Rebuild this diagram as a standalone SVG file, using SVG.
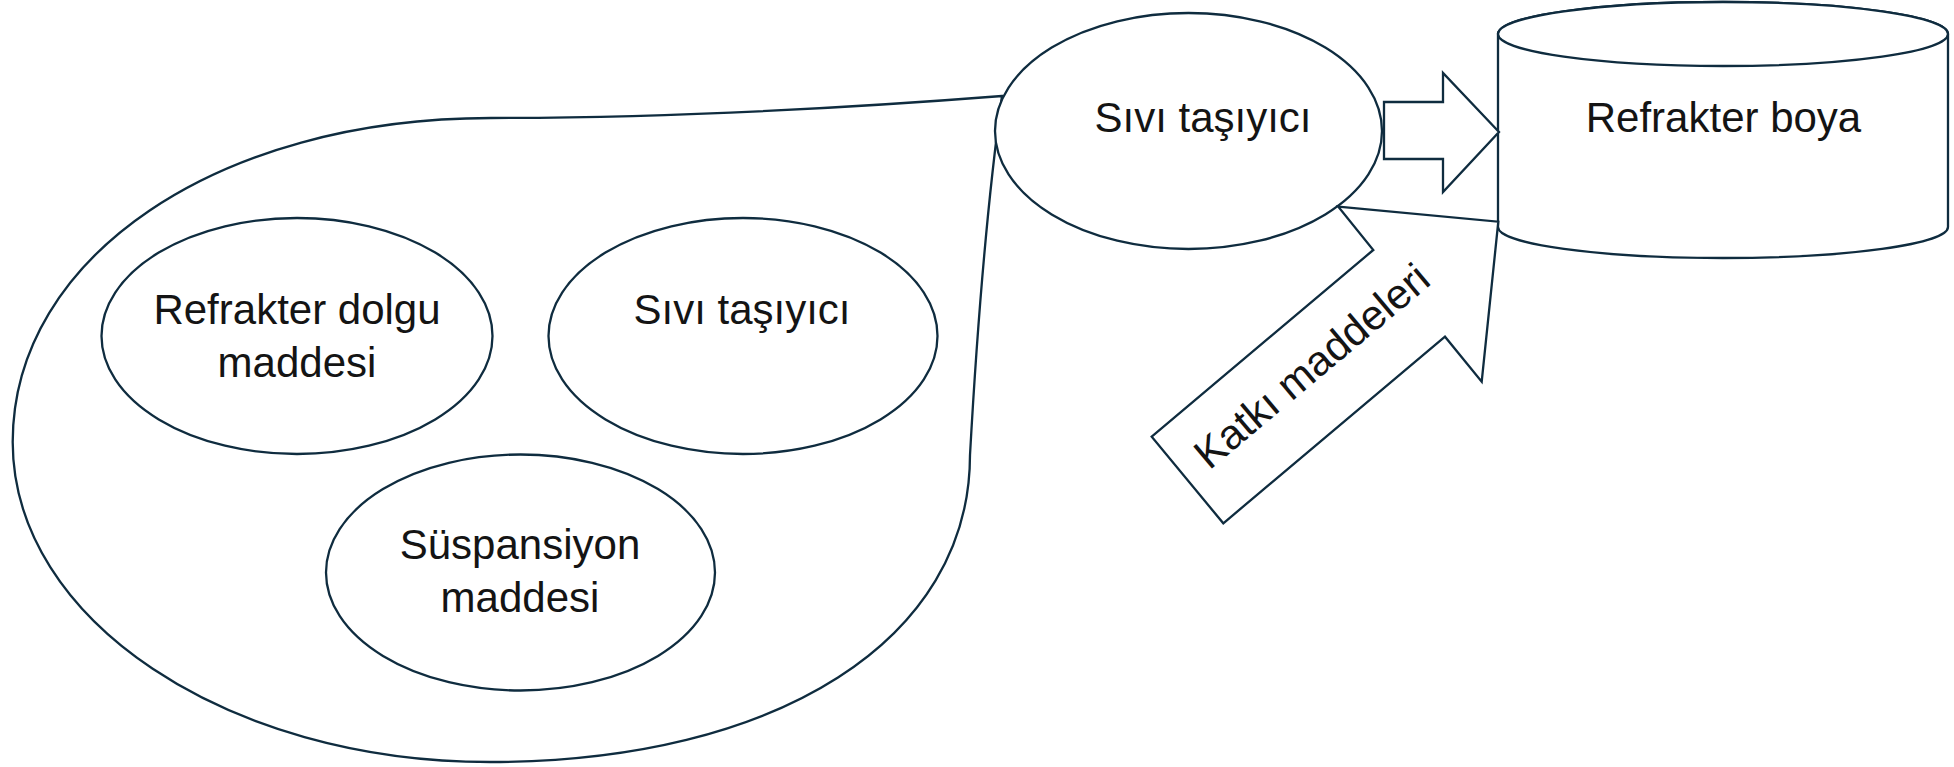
<svg xmlns="http://www.w3.org/2000/svg" width="1954" height="767" viewBox="0 0 1954 767">
<style>
.s{fill:#fff;stroke:#0f2c3f;stroke-width:2.3;stroke-linejoin:miter}
.t{font-family:"Liberation Sans",Arial,sans-serif;font-size:42px;fill:#141414;text-anchor:middle}
</style>
<rect width="1954" height="767" fill="#fff"/>
<g id="mixture">
<path class="s" d="M1002,96 Q720,118 491,118 C218.5,118 12.7,256.5 12.7,442 C12.7,620 227,762 490,762 C778,762 970,639 970,455 Q982,240 1002,96 Z"/>
</g>
<g id="refrakter-dolgu">
<ellipse class="s" cx="297" cy="336" rx="195.5" ry="118"/>
<text class="t" x="297" y="324">Refrakter dolgu</text>
<text class="t" x="297" y="376.5">maddesi</text>
</g>
<g id="sivi-tasiyici-inner">
<ellipse class="s" cx="743" cy="336" rx="194.5" ry="118"/>
<text class="t" x="742" y="323.5">Sıvı taşıyıcı</text>
</g>
<g id="suspansiyon">
<ellipse class="s" cx="520.5" cy="572.5" rx="194.5" ry="118"/>
<text class="t" x="520" y="559">Süspansiyon</text>
<text class="t" x="520" y="612">maddesi</text>
</g>
<g id="sivi-tasiyici">
<ellipse class="s" cx="1188.5" cy="131" rx="193.5" ry="118"/>
<text class="t" x="1203" y="131.5">Sıvı taşıyıcı</text>
</g>
<g id="refrakter-boya">
<path class="s" d="M1498,34 A225,32 0 0 1 1948,34 L1948,227 A225,31 0 0 1 1498,227 Z"/>
<ellipse class="s" cx="1723" cy="34" rx="225" ry="32"/>
<text class="t" x="1723.5" y="131.5">Refrakter boya</text>
</g>
<g id="connectors">
<polygon class="s" points="1384,102 1443,102 1443,73 1499,132 1443,192 1443,159 1384,159"/>
<g id="katki-maddeleri">
<polygon class="s" points="1498.3,221.7 1481.7,381.7 1445,336.7 1223.3,523.3 1151.7,436.7 1373.3,250 1338.3,206.7"/>
<text class="t" transform="translate(1321,377) rotate(-40)" x="0" y="0" font-size="43">Katkı maddeleri</text>
</g>
</g>
</svg>
